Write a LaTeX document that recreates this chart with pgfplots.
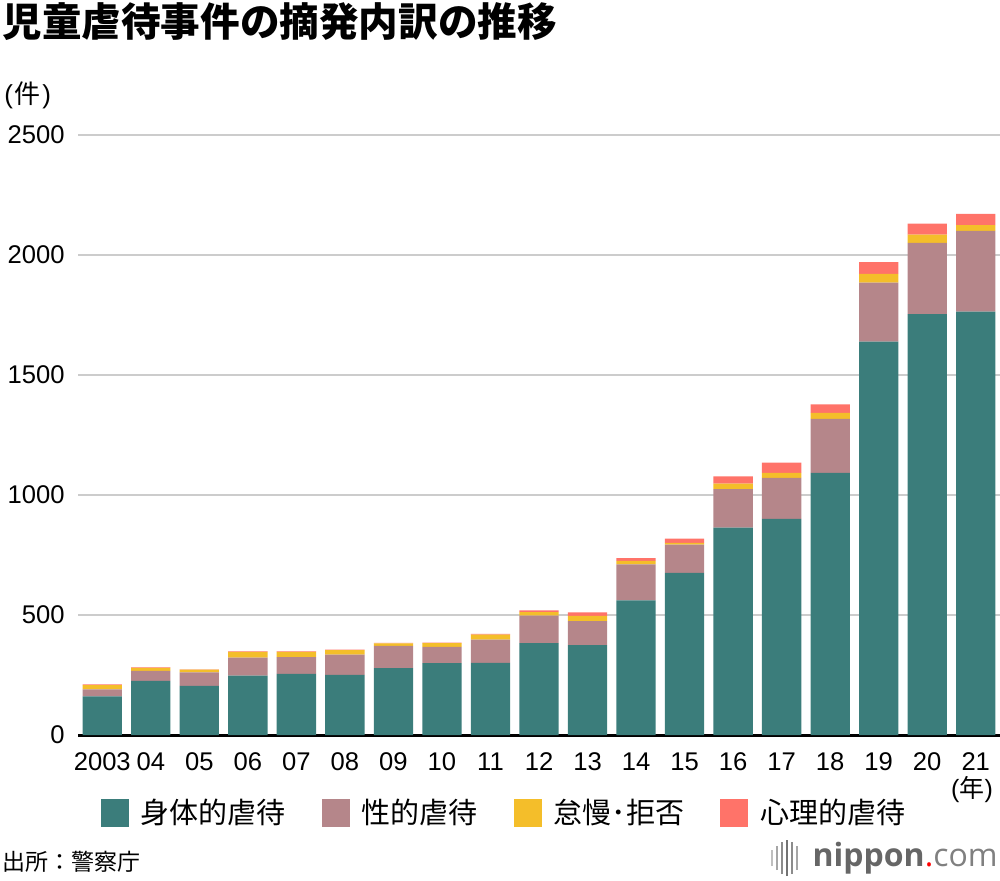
\documentclass[border=0pt]{standalone}
\usepackage{pgfplots}
\pgfplotsset{compat=1.18}
\usepackage{pgfplotstable}
\usepackage{fontspec}
\setmainfont{Liberation Sans}
\newfontfamily\cjk{Noto Sans CJK JP}
\newfontfamily\logofont{Open Sans}
\definecolor{cPhys}{HTML}{3B7D7B}
\definecolor{cSex}{HTML}{B5868A}
\definecolor{cNeg}{HTML}{F4BE2A}
\definecolor{cPsy}{HTML}{FF7369}
\definecolor{gridgray}{HTML}{CCCCCC}

% x = year index (0 = 2003)
\pgfplotstableread{
x  phys  sex  neg  psy
0  161   29   18   3
1  226   41   13   2
2  205   56   11   2
3  247   75   24   2
4  255   70   21   2
5  251   84   19   2
6  279   92   11   2
7  299   68   16   2
8  301   96   21   3
9  383   114  15   7
10 374   101  21   15
11 561   150  15   11
12 676   117  8    17
13 864   161  22   31
14 901   170  21   43
15 1092  225  25   36
16 1639  246  36   49
17 1754  297  34   46
18 1764  337  23   47
}\abuse

\begin{document}
\begin{tikzpicture}
\useasboundingbox (0,0) rectangle (500pt,440pt);
\begin{axis}[
  at={(39pt,72.5pt)}, anchor=south west,
  scale only axis, width=461pt, height=300pt,
  ybar stacked, bar width=0.81,
  xmin=-0.5, xmax=18.5, ymin=0, ymax=2500,
  enlargelimits=false,
  xtick={0,...,18},
  xticklabels={2003,04,05,06,07,08,09,10,11,12,13,14,15,16,17,18,19,20,21},
  ytick={0,500,...,2500},
  /pgf/number format/assume math mode=true,
  /pgf/number format/set thousands separator={},
  major tick length=0pt,
  ticklabel style={font=\fontsize{12.8}{14}\selectfont},
  yticklabel style={anchor=east, inner sep=0pt, xshift=-6.5pt},
  xticklabel style={anchor=north, inner sep=0pt, yshift=-8.5pt},
  ymajorgrids, grid style={gridgray, line width=1pt},
  axis lines*=left,
  y axis line style={draw=none},
  x axis line style={-, black, line width=1.5pt},
  clip=false,
  legend columns=4,
  legend style={at={(0.463,-0.13)}, anchor=center, draw=none, fill=none,
    font=\cjk\fontsize{14.5}{16}\selectfont,
    /tikz/every odd column/.append style={column sep=4pt},
    /tikz/every even column/.append style={column sep=16pt}},
  legend image code/.code={\fill[#1, draw=none] (0pt,-7pt) rectangle (14pt,7pt);},
]
\addplot[fill=cPhys, draw=none] table[x=x, y=phys] {\abuse};
\addlegendentry{身体的虐待}
\addplot[fill=cSex, draw=none] table[x=x, y=sex] {\abuse};
\addlegendentry{性的虐待}
\addplot[fill=cNeg, draw=none] table[x=x, y=neg] {\abuse};
\addlegendentry{怠慢･拒否}
\addplot[fill=cPsy, draw=none] table[x=x, y=psy] {\abuse};
\addlegendentry{心理的虐待}
\end{axis}

% titles and notes
\node[anchor=west, inner sep=0pt, font=\cjk\bfseries\fontsize{19.8}{22}\selectfont] at (1pt,429pt) {児童虐待事件の摘発内訳の推移};
\node[anchor=west, inner sep=0pt, font=\fontsize{13}{15}\selectfont] at (2pt,392.5pt) {(\kern0.8pt{\cjk 件}\kern0.8pt)};
\node[anchor=center, inner sep=0pt, font=\fontsize{12.5}{14}\selectfont] at (486pt,45pt) {({\cjk 年})};
\node[anchor=west, inner sep=0pt, font=\cjk\fontsize{11.5}{13}\selectfont] at (1pt,9pt) {出所：警察庁};

% nippon.com logo
\foreach \xx/\hh/\gg in {386/4/25,388.5/6/35,391/8/45,393.5/9/55,396/8/45,398.5/6/35}{
  \draw[black!\gg, line width=1.1pt] (\xx pt,11pt-\hh pt) -- (\xx pt,11pt+\hh pt);
}
\node[anchor=east, inner sep=0pt, font=\logofont\fontsize{16}{18}\selectfont] at (499pt,11pt)
  {{\bfseries\color{black!60}nippon}{\color{red}.}{\color{black!50}com}};
\end{tikzpicture}
\end{document}
